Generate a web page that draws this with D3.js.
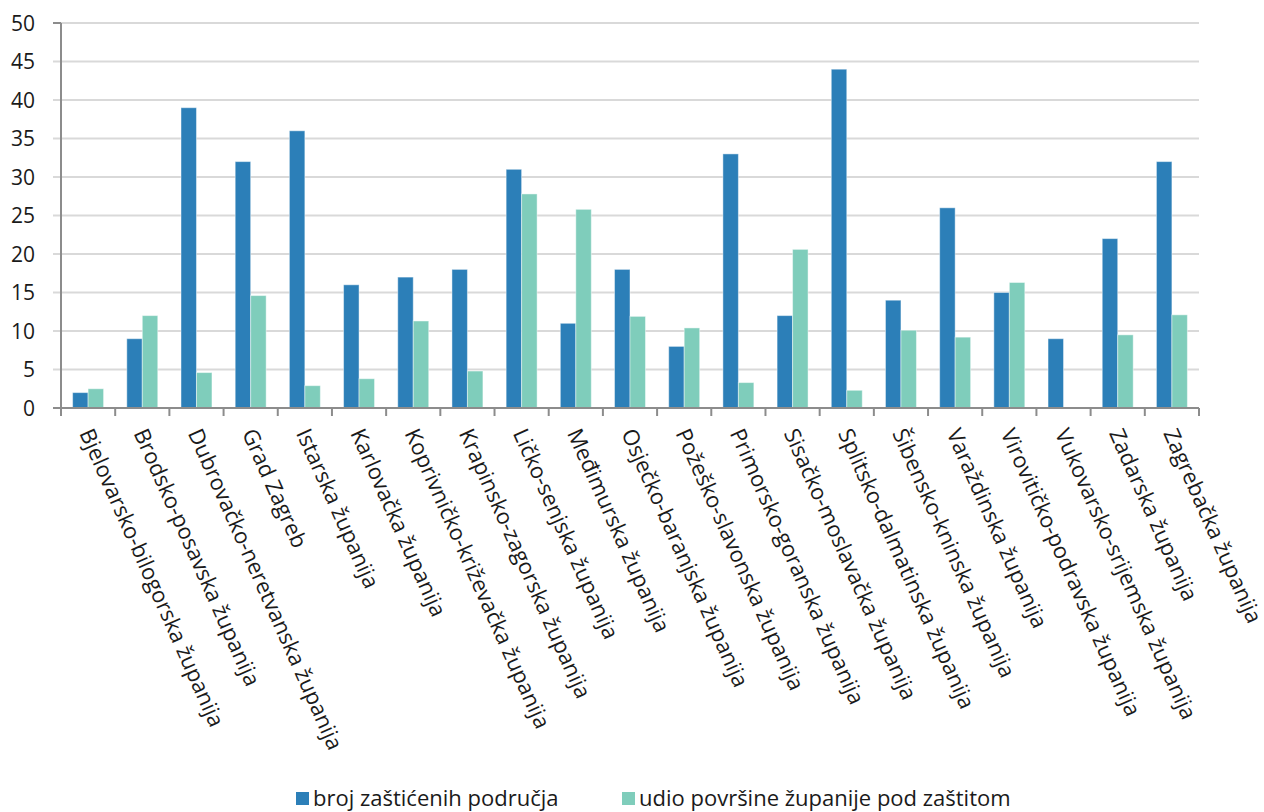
<!DOCTYPE html>
<html>
<head>
<meta charset="utf-8">
<script src="https://cdn.jsdelivr.net/npm/d3@7"></script>
<style>
  html, body { margin: 0; padding: 0; background: #fff; }
  svg { display: block; font-family: "Open Sans", "Noto Sans", sans-serif; }
</style>
</head>
<body>
<svg id="chart" width="1264" height="812"></svg>
<script>
// Counties (županije)
const categories = [
  "Bjelovarsko-bilogorska županija",
  "Brodsko-posavska županija",
  "Dubrovačko-neretvanska županija",
  "Grad Zagreb",
  "Istarska županija",
  "Karlovačka županija",
  "Koprivničko-križevačka županija",
  "Krapinsko-zagorska županija",
  "Ličko-senjska županija",
  "Međimurska županija",
  "Osječko-baranjska županija",
  "Požeško-slavonska županija",
  "Primorsko-goranska županija",
  "Sisačko-moslavačka županija",
  "Splitsko-dalmatinska županija",
  "Šibensko-kninska županija",
  "Varaždinska županija",
  "Virovitičko-podravska županija",
  "Vukovarsko-srijemska županija",
  "Zadarska županija",
  "Zagrebačka županija"
];

// Number of protected areas per county
const brojPodrucja = [2, 9, 39, 32, 36, 16, 17, 18, 31, 11, 18, 8, 33, 12, 44, 14, 26, 15, 9, 22, 32];

// Share of county area under protection (%)
const udioPovrsine = [2.5, 12.0, 4.6, 14.6, 2.9, 3.8, 11.3, 4.8, 27.8, 25.8, 11.9, 10.4, 3.3, 20.6, 2.3, 10.1, 9.2, 16.3, 0, 9.5, 12.1];

const seriesNames = ["broj zaštićenih područja", "udio površine županije pod zaštitom"];
const yTicks = [0, 5, 10, 15, 20, 25, 30, 35, 40, 45, 50];

const colors = ["#2c7fb8", "#7fcdbb"];

const svg = d3.select("#chart");
const plotLeft = 61, plotRight = 1199, plotTop = 23, plotBottom = 408;

const x = d3.scaleBand().domain(categories).range([plotLeft, plotRight]).paddingInner(0).paddingOuter(0);
const x1 = d3.scaleBand().domain([0, 1]).range([0, x.bandwidth()]).paddingInner(0).paddingOuter(0.75);
const y = d3.scaleLinear().domain([0, 50]).range([plotBottom, plotTop]);

// Horizontal gridlines with outward tick stubs
svg.append("g")
  .selectAll("line")
  .data(yTicks.filter(d => d > 0))
  .join("line")
  .attr("x1", plotLeft - 8).attr("x2", plotRight)
  .attr("y1", d => y(d)).attr("y2", d => y(d))
  .attr("stroke", "#d9d9d9").attr("stroke-width", 2);

// Y axis labels
svg.append("g")
  .selectAll("text")
  .data(yTicks)
  .join("text")
  .attr("x", 35)
  .attr("y", d => y(d))
  .attr("dy", "0.36em")
  .attr("text-anchor", "end")
  .attr("font-size", 21)
  .attr("fill", "#1a1a1a")
  .text(d => d);

// Bars
const groups = svg.append("g")
  .selectAll("g")
  .data(categories.map((c, i) => ({ c, v: [brojPodrucja[i], udioPovrsine[i]] })))
  .join("g")
  .attr("transform", d => `translate(${x(d.c)},0)`);

groups.selectAll("rect")
  .data(d => d.v.map((v, k) => ({ v, k })))
  .join("rect")
  .attr("x", d => x1(d.k))
  .attr("width", x1.bandwidth())
  .attr("y", d => y(d.v))
  .attr("height", d => y(0) - y(d.v))
  .attr("fill", d => colors[d.k])
  .attr("stroke", "#ffffff")
  .attr("stroke-opacity", 0.45)
  .attr("stroke-width", 1);

// Axis lines
svg.append("line")
  .attr("x1", plotLeft).attr("x2", plotLeft).attr("y1", plotTop).attr("y2", plotBottom)
  .attr("stroke", "#8c8c8c").attr("stroke-width", 2);
svg.append("line")
  .attr("x1", plotLeft - 8).attr("x2", plotRight).attr("y1", y(0)).attr("y2", y(0))
  .attr("stroke", "#8c8c8c").attr("stroke-width", 2);
svg.append("line")
  .attr("x1", plotLeft - 8).attr("x2", plotLeft).attr("y1", plotTop).attr("y2", plotTop)
  .attr("stroke", "#8c8c8c").attr("stroke-width", 2);

// Category tick marks at band boundaries
const boundaries = categories.map(c => x(c)).concat([plotRight]);
svg.append("g")
  .selectAll("line")
  .data(boundaries)
  .join("line")
  .attr("x1", d => d).attr("x2", d => d)
  .attr("y1", plotBottom).attr("y2", plotBottom + 8)
  .attr("stroke", "#8c8c8c").attr("stroke-width", 2);

// Rotated category labels
svg.append("g")
  .selectAll("text")
  .data(categories)
  .join("text")
  .attr("transform", d => `translate(${x(d) + x.bandwidth() / 2 - 9},${plotBottom + 25}) rotate(66)`)
  .attr("text-anchor", "start")
  .attr("font-size", 22)
  .attr("fill", "#1a1a1a")
  .text(d => d);

// Legend
const legend = svg.append("g");
const legendItems = [{ x: 296, k: 0 }, { x: 622, k: 1 }];
legendItems.forEach(it => {
  legend.append("rect")
    .attr("x", it.x).attr("y", 792).attr("width", 13).attr("height", 13)
    .attr("fill", colors[it.k]);
  legend.append("text")
    .attr("x", it.x + 17).attr("y", 806)
    .attr("font-size", 22)
    .attr("fill", "#1a1a1a")
    .text(seriesNames[it.k]);
});
</script>
</body>
</html>
